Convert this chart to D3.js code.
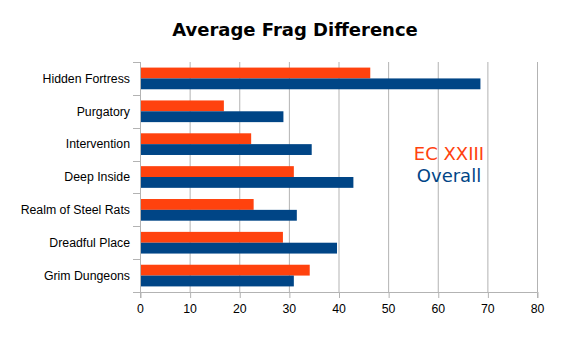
<!DOCTYPE html>
<html>
<head>
<meta charset="utf-8">
<script src="https://cdn.jsdelivr.net/npm/d3@7"></script>
<style>
  body { margin: 0; background: #fff; }
  .axis text { font-family: "Liberation Sans", Arial, sans-serif; font-size: 12.3px; fill: #000; }
</style>
</head>
<body>
<svg id="chart"></svg>
<script>
const categories = ["Hidden Fortress", "Purgatory", "Intervention", "Deep Inside", "Realm of Steel Rats", "Dreadful Place", "Grim Dungeons"];
const ecValues = [46.3, 16.8, 22.3, 30.9, 22.8, 28.7, 34.1];
const overallValues = [68.5, 28.8, 34.5, 42.9, 31.5, 39.6, 30.9];
const seriesNames = ["EC XXIII", "Overall"];
const xTicks = [0, 10, 20, 30, 40, 50, 60, 70, 80];

const colors = ["#ff420e", "#004586"];
const svgWidth = 565, svgHeight = 341;
const margin = { top: 62, right: 28, bottom: 49, left: 140 };
const width = svgWidth - margin.left - margin.right;
const height = svgHeight - margin.top - margin.bottom;

const svg = d3.select("#chart").attr("width", svgWidth).attr("height", svgHeight);
const g = svg.append("g").attr("transform", `translate(${margin.left},${margin.top})`);

// 比例尺
const x = d3.scaleLinear().domain([0, 80]).range([0, width]);
const y = d3.scaleBand().domain(categories).range([0, height]).paddingInner(0.34).paddingOuter(0.17);
const sub = d3.scaleBand().domain(seriesNames).range([0, y.bandwidth()]);

// 网格线
g.append("g")
  .selectAll("line")
  .data(xTicks)
  .enter()
  .append("line")
  .attr("x1", d => x(d) + 0.5)
  .attr("x2", d => x(d) + 0.5)
  .attr("y1", 0)
  .attr("y2", height)
  .style("stroke", "#b3b3b3");

// 柱子
const rows = categories.map((c, i) => ({ cat: c, vals: [ecValues[i], overallValues[i]] }));
g.selectAll(".row")
  .data(rows)
  .enter()
  .append("g")
  .attr("transform", d => `translate(0,${y(d.cat)})`)
  .selectAll("rect")
  .data(d => d.vals.map((v, j) => ({ name: seriesNames[j], v, j })))
  .enter()
  .append("rect")
  .attr("x", x(0) + 0.5)
  .attr("y", d => sub(d.name))
  .attr("width", d => x(d.v) - x(0))
  .attr("height", sub.bandwidth())
  .style("fill", d => colors[d.j]);

// X 轴
const xAxis = g.append("g")
  .attr("class", "axis")
  .attr("transform", `translate(0,${height})`)
  .call(d3.axisBottom(x).tickValues(xTicks).tickSize(6).tickPadding(6));
xAxis.select(".domain").style("stroke", "#b3b3b3");
xAxis.selectAll(".tick line").style("stroke", "#b3b3b3").attr("x1", 0.5).attr("x2", 0.5);

// Y 轴
const boundaries = d3.range(categories.length + 1).map(i => i * height / categories.length);
const yAxis = g.append("g").attr("class", "axis");
yAxis.append("line")
  .attr("x1", 0.5).attr("x2", 0.5).attr("y1", 0).attr("y2", height + 6)
  .style("stroke", "#b3b3b3");
yAxis.selectAll(".ytick")
  .data(boundaries)
  .enter()
  .append("line")
  .attr("x1", -7).attr("x2", 0)
  .attr("y1", d => Math.round(d) + 0.5).attr("y2", d => Math.round(d) + 0.5)
  .style("stroke", "#b3b3b3");
yAxis.selectAll(".ylabel")
  .data(categories)
  .enter()
  .append("text")
  .attr("x", -10)
  .attr("y", d => y(d) + y.bandwidth() / 2)
  .attr("dy", "0.35em")
  .attr("text-anchor", "end")
  .text(d => d);

// 标题
svg.append("text")
  .attr("x", 295)
  .attr("y", 36)
  .attr("text-anchor", "middle")
  .style("font-family", "DejaVu Sans, sans-serif")
  .style("font-weight", "bold")
  .style("font-size", "18px")
  .text("Average Frag Difference");

// 图例
svg.selectAll(".legend")
  .data(seriesNames)
  .enter()
  .append("text")
  .attr("x", 449)
  .attr("y", (d, i) => 160 + i * 22)
  .attr("text-anchor", "middle")
  .style("font-family", "DejaVu Sans, sans-serif")
  .style("font-size", "18px")
  .style("fill", (d, i) => colors[i])
  .text(d => d);
</script>
</body>
</html>
